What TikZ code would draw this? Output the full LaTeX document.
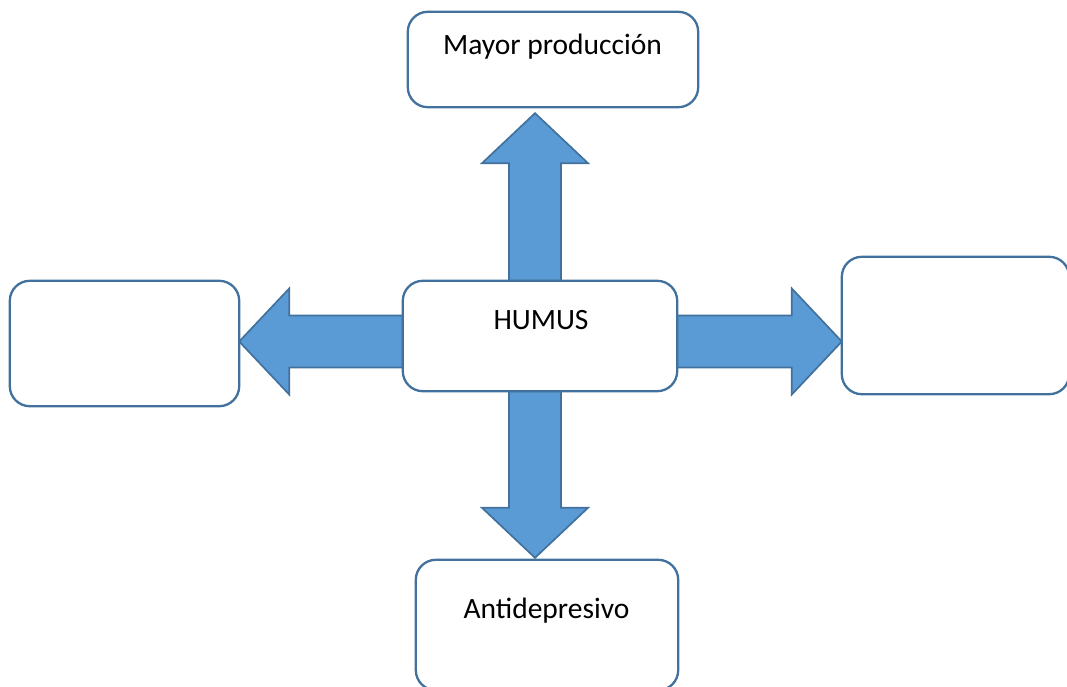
\documentclass[tikz,border=0pt]{standalone}
\usepackage{fontspec}
\setmainfont{Carlito}
\usetikzlibrary{calc}
\definecolor{edgeblue}{HTML}{41719C}
\definecolor{fillblue}{HTML}{5B9BD5}
\tikzset{
  box/.style={draw=edgeblue, line width=2.3pt, fill=white, rounded corners=20pt,
    inner sep=0pt, outer sep=0pt},
  boxtext/.style={font=\fontsize{29.5}{35}\selectfont, inner sep=0pt, anchor=base},
  blockarrow/.style={draw=edgeblue, line width=1.7pt, fill=fillblue, line join=miter},
}
% block arrow from tail #1 to tip #2: half shaft 26, half head 53, head length 50
\newcommand{\blockarrow}[2]{%
  \coordinate (hb) at ($(#2)!50pt!(#1)$);
  \draw[blockarrow]
    ($(#1)!26pt!90:(#2)$) -- ($(hb)!26pt!90:(#2)$) -- ($(hb)!53pt!90:(#2)$)
    -- (#2) -- ($(hb)!53pt!-90:(#2)$) -- ($(hb)!26pt!-90:(#2)$)
    -- ($(#1)!26pt!-90:(#2)$) -- cycle;}
\begin{document}
\begin{tikzpicture}[x=1pt, y=-1pt]
  \useasboundingbox (0,0) rectangle (1067,687);

  % boxes (placed first so the arrows can be attached to them)
  \path
    node[minimum width=290pt, minimum height=95pt, inner sep=0pt] (top) at (553,59.5) {}
    node[minimum width=274pt, minimum height=110pt, inner sep=0pt] (hum) at (540,336) {}
    node[minimum width=229pt, minimum height=125pt, inner sep=0pt] (left) at (124.5,343.5) {}
    node[minimum width=227pt, minimum height=137pt, inner sep=0pt] (right) at (955.5,325.5) {}
    node[minimum width=262pt, minimum height=130pt, inner sep=0pt] (bottom) at (547,625) {};

  % tails and tips of the four block arrows
  \coordinate (upTail) at ($(hum.north)+(-5,0)$);
  \coordinate (upTip) at ($(upTail |- top.south)+(0,6)$);
  \coordinate (dnTail) at ($(hum.south)+(-5,0)$);
  \coordinate (dnTip) at ($(dnTail |- bottom.north)+(0,-2)$);
  \coordinate (lfTail) at ($(hum.west)+(0,5.5)$);
  \coordinate (lfTip) at (lfTail -| left.east);
  \coordinate (rtTail) at ($(hum.east)+(0,5.5)$);
  \coordinate (rtTip) at (rtTail -| right.west);

  \blockarrow{upTail}{upTip}
  \blockarrow{dnTail}{dnTip}
  \blockarrow{lfTail}{lfTip}
  \blockarrow{rtTail}{rtTip}

  % box outlines over the arrow ends
  \foreach \b in {top,hum,left,right,bottom}
    \draw[box] (\b.south west) rectangle (\b.north east);

  % labels
  \node[boxtext] (topText) at (552.5,55) {Mayor producción};
  \node[boxtext] (humText) at (541,329) {HUMUS};
  \node[boxtext] (bottomText) at (546.5,618) {Antidepresivo};
\end{tikzpicture}
\end{document}
